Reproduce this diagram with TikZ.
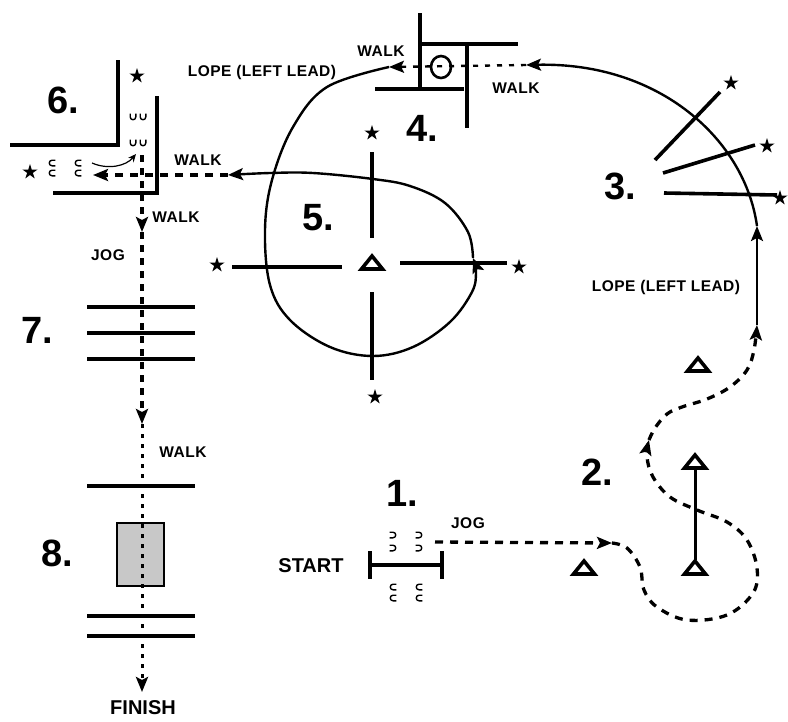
\documentclass[tikz,border=0pt]{standalone}
\usepackage{fontspec}
\setmainfont{Liberation Sans}
\usetikzlibrary{arrows.meta,shapes.geometric}
\begin{document}
\begin{tikzpicture}[x=1pt,y=-1pt,
 lbl/.style={font=\bfseries\fontsize{15.5}{16}\selectfont\addfontfeature{LetterSpace=3}, inner sep=0},
 big/.style={font=\bfseries\fontsize{38}{38}\selectfont, inner sep=0},
 endlbl/.style={font=\bfseries\fontsize{20}{20}\selectfont, inner sep=0},
 bar/.style={line width=3.6pt},
 solidpath/.style={line width=2.4pt},
 dashpath/.style={line width=3.3pt, dash pattern=on 8pt off 7pt},
 vdash/.style={line width=3.3pt, dash pattern=on 7pt off 6pt},
 vdot/.style={line width=3pt, dash pattern=on 4pt off 6pt},
 thindot/.style={line width=2.4pt, dash pattern=on 5pt off 7pt},
 tip/.style={-{Stealth[length=15pt,width=12pt,inset=3pt]}},
 smalltip/.style={-{Stealth[length=8pt,width=7pt]}},
 starmark/.style={star, star points=5, star point ratio=2.7, fill=black, minimum size=16pt, inner sep=0},
 tri/.pic={\draw[line width=3.6pt, line join=miter] (-10.5,6) -- (0,-7) -- (10.5,6) -- cycle;},
 shoe/.pic={\draw[line width=1.4pt] (-2.8,-3.4) -- (-2.8,0) .. controls (-2.8,3.6) and (2.8,3.6) .. (2.8,0) -- (2.8,-3.4);}
]
\useasboundingbox (0,0) rectangle (788,721);

% ---------- labels ----------
\node[big] (n6) at (63,100) {6.};
\node[big] (n4) at (422,128) {4.};
\node[big] (n3) at (620,186) {3.};
\node[big] (n5) at (318,218) {5.};
\node[big] (n7) at (37,330) {7.};
\node[big] (n8) at (57,553) {8.};
\node[big] (n1) at (402,493) {1.};
\node[big] (n2) at (597,472) {2.};
\node[lbl] (w4l) at (381,51) {WALK};
\node[lbl] (lope1) at (262,72) {LOPE (LEFT LEAD)};
\node[lbl] (w4r) at (516,88) {WALK};
\node[lbl] (w6) at (198,160) {WALK};
\node[lbl] (w6d) at (176,217) {WALK};
\node[lbl] (jog7) at (108,255) {JOG};
\node[lbl] (w8) at (183,452) {WALK};
\node[endlbl] (finish) at (143,708) {FINISH};
\node[endlbl] (start) at (311,566) {START};
\node[lbl] (jog1) at (468,523) {JOG};
\node[lbl] (lope2) at (666,287) {LOPE (LEFT LEAD)};

% ---------- stars ----------
\node[starmark] (s6a) at (137,76) {};
\node[starmark] (s6b) at (30,172) {};
\node[starmark] (s5t) at (372,133) {};
\node[starmark] (s5b) at (375,397) {};
\node[starmark] (s5l) at (217,265) {};
\node[starmark] (s5r) at (519,267) {};
\node[starmark] (s3a) at (731,83) {};
\node[starmark] (s3b) at (767,146) {};
\node[starmark] (s3c) at (780,198) {};

% ---------- obstacles ----------
% 6
\draw[bar] (118,60) -- (118,145) -- (10,145);
\draw[bar] (157,96) -- (157,193) -- (53,193);
% 4
\draw[bar] (420,13) -- (420,89);
\draw[bar] (420,44) -- (518,44);
\draw[bar] (375,89) -- (464,89);
\draw[bar] (467,46) -- (467,128);
\draw[line width=2.6pt] (441,67) ellipse [x radius=10, y radius=11];
% 7
\foreach \yy in {307,333,359} \draw[bar] (87,\yy) -- (195,\yy);
% 8
\foreach \yy in {486,616,636} \draw[bar] (87,\yy) -- (195,\yy);
\draw[line width=2.8pt, fill={rgb,255:red,200;green,200;blue,200}] (117,523) rectangle (164,586);
% 1
\draw[bar] (370,565) -- (442,565);
\draw[bar] (370,551) -- (370,579);
\draw[bar] (442,551) -- (442,579);
% 5
\draw[bar] (372,152) -- (372,238);
\draw[bar] (372,292) -- (372,380);
\draw[bar] (232,267) -- (342,267);
\draw[bar] (400,263) -- (507,263);
% 3
\draw[bar] (655,160) -- (720,92);
\draw[bar] (663,173) -- (755,145);
\draw[bar] (664,193) -- (777,195);
% 2
\draw[line width=3pt] (695,470) -- (695,560);

% ---------- triangles ----------
\pic at (372,263) {tri};
\pic at (698,365) {tri};
\pic at (695,462) {tri};
\pic at (695,568) {tri};
\pic at (584,568) {tri};

% ---------- horseshoes ----------
\foreach \xx in {133,143} { \pic at (\xx,117) {shoe}; \pic at (\xx,143) {shoe}; }
\foreach \xx in {52,78} { \pic[rotate=-90] at (\xx,163) {shoe}; \pic[rotate=-90] at (\xx,173) {shoe}; }
\foreach \xx in {393,419} { \pic[rotate=90] at (\xx,535) {shoe}; \pic[rotate=90] at (\xx,548) {shoe}; }
\foreach \xx in {393,419} { \pic[rotate=-90] at (\xx,587) {shoe}; \pic[rotate=-90] at (\xx,598) {shoe}; }

% ---------- route coordinates ----------
\coordinate (p1) at (435,542);
\coordinate (p2) at (612,543);
\coordinate (p3) at (649,440);
\coordinate (p4) at (757,325);
\coordinate (p5) at (757,226);
\coordinate (p6) at (526,65);
\coordinate (p7) at (389,67);
\coordinate (p8) at (473,258);
\coordinate (p9) at (228,175);
\coordinate (p10) at (93,175);
\coordinate (q0) at (142,155);
\coordinate (q1) at (142,232);
\coordinate (q2) at (142,424);
\coordinate (q3) at (142,692);
\coordinate (c1) at (92,163);
\coordinate (c2) at (136,154);

% ---------- route ----------
\draw[dashpath,tip] (p1) -- (p2);
\draw[dashpath,tip] plot[smooth,tension=0.6] coordinates {(p2) (627,548) (640,567) (644,590) (657,607) (687,620) (727,615) (753,593) (757,568) (747,540) (727,522) (697,510) (670,497) (653,477) (647,457) (p3)};
\draw[dashpath,tip] plot[smooth,tension=0.6] coordinates {(p3) (655,428) (667,414) (682,407) (707,399) (730,387) (747,370) (754,350) (p4)};
\draw[solidpath,tip] (p4) -- (p5);
\draw[solidpath,tip] (p5) .. controls (745,140) and (660,62) .. (p6);
\draw[thindot,tip] (p6) -- (p7);
\draw[solidpath,tip] plot[smooth,tension=0.6] coordinates {(p7) (327,87) (293,127) (272,180) (265,230) (270,285) (290,320) (330,347) (373,356) (413,347) (450,322) (472,292) (476,272) (p8)};
\draw[solidpath,tip] plot[smooth,tension=0.6] coordinates {(p8) (468,232) (445,203) (410,186) (373,179) (313,173) (270,173) (p9)};
\draw[dashpath,tip] (p9) -- (p10);
\draw[line width=1.2pt,smalltip] (c1) .. controls (108,170) and (126,166) .. (c2);
\draw[vdash,tip] (q0) -- (q1);
\draw[vdash,tip] (q1) -- (q2);
\draw[vdot,tip] (q2) -- (q3);
\end{tikzpicture}
\end{document}
